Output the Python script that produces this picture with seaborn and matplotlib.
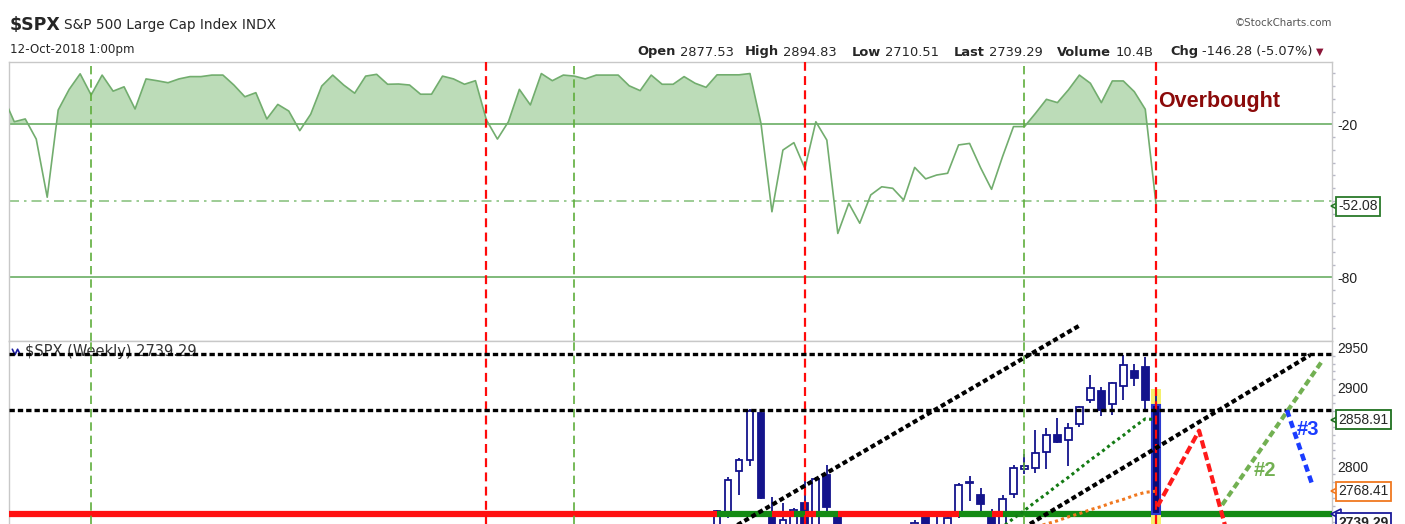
import numpy as np
import pandas as pd
import seaborn as sns
import matplotlib.pyplot as plt
from matplotlib import font_manager

# values (weekly bars, week 104 = 12-Oct-2018)
LAST = 2739.29

# Williams %R, one value per week, week -1 (just left of the frame) .. week 104
willr = [-9.3, -19.0, -17.9, -25.8, -48.6, -14.4, -6.3, -0.2, -8.5, -0.7,
         -7.0, -5.3, -14.0, -2.2, -2.9, -3.7, -2.2, -1.3, -1.3, -0.7,
         -0.7, -4.6, -9.2, -7.6, -17.9, -12.2, -14.8, -22.5, -16.0, -5.0,
         -0.7, -4.6, -7.8, -1.1, -0.4, -4.3, -4.2, -4.6, -8.2, -8.2,
         -1.1, -2.2, -4.3, -2.9, -18.3, -25.8, -19.0, -6.3, -12.4, -0.1,
         -2.9, -0.7, -1.1, -2.2, -0.7, -0.7, -0.7, -4.9, -6.8, -0.7,
         -4.3, -4.3, -1.3, -3.9, -5.5, -0.6, -0.6, -0.6, -0.1, -19.6,
         -54.3, -30.1, -27.2, -37.3, -19.0, -26.2, -62.8, -51.0, -58.8, -47.7,
         -44.5, -45.1, -49.7, -36.9, -41.4, -39.9, -39.2, -28.1, -27.5, -37.0,
         -45.5, -32.7, -20.9, -20.9, -15.7, -10.2, -11.5, -6.5, -0.7, -3.9,
         -11.5, -3.0, -3.0, -7.2, -14.1, -52.08]

# weekly candles, weeks 64..104 (older bars sit below the visible price range)
candle_weeks = list(range(64, 105))
opens = [2684, 2742, 2794, 2808, 2868, 2741, 2614, 2723, 2754, 2681,
         2789, 2741, 2619, 2633, 2636, 2670, 2675, 2663, 2669, 2738,
         2725, 2705, 2741, 2780, 2763, 2740, 2724, 2765, 2797, 2798,
         2818, 2839, 2833, 2854, 2884, 2895, 2879, 2902, 2921, 2925,
         2877.53]
highs = [2745, 2786, 2810, 2872, 2871, 2761, 2754, 2747, 2788, 2787,
         2801, 2741, 2659, 2672, 2680, 2717, 2683, 2682, 2732, 2742,
         2739, 2736, 2779, 2788, 2773, 2746, 2763, 2801, 2816, 2846,
         2848, 2861, 2855, 2876, 2916, 2900, 2906, 2941, 2930, 2938,
         2894.83]
lows = [2682, 2735, 2764, 2800, 2758, 2533, 2596, 2700, 2647, 2675,
        2741, 2585, 2593, 2553, 2605, 2660, 2612, 2594, 2655, 2701,
        2707, 2676, 2735, 2756, 2742, 2691, 2698, 2760, 2790, 2792,
        2797, 2830, 2800, 2850, 2880, 2863, 2865, 2884, 2902, 2870,
        2710.51]
closes = [2743, 2783, 2808, 2870, 2760, 2620, 2732, 2745, 2691, 2784,
          2748, 2588, 2640, 2604, 2656, 2670, 2669, 2663, 2728, 2712,
          2721, 2735, 2776, 2779, 2752, 2718, 2758, 2798, 2800, 2817,
          2839, 2831, 2848, 2875, 2899, 2871, 2905, 2928, 2912, 2884,
          2739.29]

# moving averages (only their last weeks reach the visible range)
ma_green_weeks = list(range(89, 105))
ma_green = [2712, 2723, 2734, 2744, 2755, 2765, 2776, 2786, 2797, 2808,
            2818, 2829, 2839, 2850, 2860, 2858.91]
ma_orange_weeks = list(range(93, 105))
ma_orange = [2723, 2727, 2731, 2736, 2740, 2745, 2749, 2754, 2758,
             2763, 2767, 2768.41]

# hand drawn annotations (week, price)
vline_green = [7, 51, 92]
vline_red = [43, 72, 104]
hline_levels = [2941.5, 2871.0]
trend_a = ([64.0, 97.1], [2710.6, 2978.8])
trend_b = ([92.5, 118.0], [2726.9, 2940.6])
path1 = ([104.1, 107.9, 110.7], [2749, 2845, 2703])
path2 = ([110.0, 119.1], [2751, 2933])
path3 = ([115.9, 118.2], [2871, 2777])

hdr_keys = ['Open', 'High', 'Low', 'Last', 'Volume', 'Chg']
hdr_vals = ['2877.53', '2894.83', '2710.51', '2739.29', '10.4B', '-146.28 (-5.07%)']

# ---------------------------------------------------------------------------
names = {f.name for f in font_manager.fontManager.ttflist}
NARROW = 'Liberation Sans Narrow' if 'Liberation Sans Narrow' in names else 'Liberation Sans'
big = 1.22 if NARROW == 'Liberation Sans Narrow' else 1.0

sns.set_theme(style='white')
plt.rcParams['font.family'] = ['Liberation Sans', 'DejaVu Sans']

W, H = 1405, 524
fig = plt.figure(figsize=(W / 100, H / 100), dpi=100)


def box(x0, y0, x1, y1):
    return [x0 / W, 1 - y1 / H, (x1 - x0) / W, (y1 - y0) / H]


ax_r = fig.add_axes(box(9, 62, 1331.5, 341))
ax_p = fig.add_axes(box(9, 341, 1331.5, 524))
XLIM = (-0.48, 119.96)
NAVY = '#14148c'
RED = '#ff1010'
GREEN = '#138a13'

# --- Williams %R panel
wk_r = np.arange(len(willr)) - 1
r = np.array(willr)
ax_r.fill_between(wk_r, r, -20, where=r >= -20, interpolate=True,
                  color='#bcdcb8', lw=0, zorder=1)
sns.lineplot(x=wk_r, y=r, ax=ax_r, color='#72ad6e', lw=1.2, errorbar=None, zorder=3)
ax_r.axhline(-20, color='#7fba7a', lw=1.4, zorder=2)
ax_r.axhline(-80, color='#7fba7a', lw=1.4, zorder=2)
ax_r.axhline(-50, color='#8cc483', lw=1.2, ls=(0, (6, 3, 1.5, 3)), zorder=2)
ax_r.set_ylim(-104.98, 4.43)
ax_r.set_yticks([-20, -80])
ax_r.set_yticklabels(['-20', '-80'])
ax_r.set_yticks(np.arange(-100, 5, 5), minor=True)
ax_r.text(104.2, -10.9, 'Overbought', color='#8b0a0a', fontsize=15.5 * big,
          fontweight='bold', family=NARROW, va='center', ha='left', zorder=8)

# --- price panel
cdf = pd.DataFrame(dict(week=candle_weeks, open=opens, high=highs, low=lows, close=closes))
hist = cdf.iloc[:-1]
cur = cdf.iloc[-1]
up = hist[hist.close >= hist.open]
dn = hist[hist.close < hist.open]
ax_p.vlines(hist.week, hist.low, hist.high, color=NAVY, lw=1.3, zorder=2)
ax_p.bar(up.week, up.close - up.open, bottom=up.open, width=0.62,
         color='white', edgecolor=NAVY, lw=1.3, zorder=2.2)
ax_p.bar(dn.week, dn.open - dn.close, bottom=dn.close, width=0.62,
         color=NAVY, edgecolor=NAVY, lw=1.3, zorder=2.2)

# last-price line, coloured by where each weekly close sits against it
seg_start = [XLIM[0]] + candle_weeks
seg_end = candle_weeks + [XLIM[1]]
seg_col = [RED] + [GREEN if c >= LAST else RED for c in closes]
ax_p.hlines([LAST] * len(seg_col), seg_start, seg_end, colors=seg_col, lw=4.5, zorder=3)

# current week, highlighted
ax_p.bar(cur.week, cur.high + 3 - cur.low, bottom=cur.low, width=0.95,
         color='#f4f06c', lw=0, zorder=3.6)
ax_p.vlines(cur.week, cur.low, cur.high, color=NAVY, lw=1.3, zorder=3.7)
ax_p.bar(cur.week, cur.open - cur.close, bottom=cur.close, width=0.72,
         color='#0a0a78', edgecolor='#2a3ad0', lw=1.5, zorder=3.8)

sns.lineplot(x=ma_green_weeks, y=ma_green, ax=ax_p, color='#137a13', lw=2.2,
             ls=(0, (1, 1.1)), errorbar=None, zorder=4)
sns.lineplot(x=ma_orange_weeks, y=ma_orange, ax=ax_p, color='#f07820', lw=2.2,
             ls=(0, (1, 1.1)), errorbar=None, zorder=4)

for lvl in hline_levels:
    ax_p.axhline(lvl, color='black', lw=2.4, ls=(0, (1.6, 0.9)), zorder=6)
for tl in (trend_a, trend_b):
    ax_p.plot(*tl, color='black', lw=3.0, ls=(0, (1.2, 0.75)), clip_on=False, zorder=7)

ax_p.plot(*path1, color='#ff1a1a', lw=3.0, ls=(0, (2.0, 0.9)), zorder=7)
ax_p.plot(*path2, color='#72b052', lw=3.0, ls=(0, (1.6, 0.9)), zorder=7)
ax_p.plot(*path3, color='#1a3cff', lw=3.2, ls=(0, (1.6, 1.0)), zorder=7)
lab = dict(fontsize=14.5 * big, fontweight='bold', family=NARROW, ha='center',
           va='center', zorder=8)
ax_p.text(106.8, 2715, '#1', color='#ff1a1a', **lab)
ax_p.text(113.9, 2795, '#2', color='#72b052', **lab)
ax_p.text(117.8, 2846, '#3', color='#1a3cff', **lab)

ax_p.set_ylim(2726.9, 2958.5)
ax_p.set_yticks([2800, 2900, 2950])
ax_p.set_yticks(np.arange(2730, 2960, 10), minor=True)

ax_p.text(0.0121, 0.9415, '$SPX (Weekly) 2739.29', transform=ax_p.transAxes,
          va='center', fontsize=10.5, family='DejaVu Sans', color='#333333', zorder=5)
ax_p.plot([0.0025, 0.0045, 0.0065, 0.0085], [0.955, 0.925, 0.955, 0.925],
          transform=ax_p.transAxes, color='#1a1aa0', lw=1.2, zorder=5)

# vertical markers across both panels
for ax in (ax_r, ax_p):
    for w in vline_green:
        ax.axvline(w, color='#5fae3c', lw=1.2, ls=(0, (5, 3)), zorder=5)
    for w in vline_red:
        ax.axvline(w, color='#ff0a0a', lw=1.6, ls=(0, (4, 2.4)), zorder=5)
    ax.set_xlim(*XLIM)
    ax.set_xticks([])
    ax.set_xlabel('')
    ax.set_ylabel('')
    ax.yaxis.tick_right()
    ax.tick_params(axis='y', which='major', length=0, pad=4, labelsize=10,
                   labelcolor='#222222')
    ax.tick_params(axis='y', which='minor', length=2, width=1, color='#b8b8c8')
    ax.set_facecolor('white')
    for s in ax.spines.values():
        s.set_color('#c8c8c8')
        s.set_linewidth(1)
ax_p.spines['bottom'].set_visible(False)


def tag(ax, val, text, ec, dy=0, bold=False):
    ax.plot(1.0035, val, marker='<', ms=7, mfc='white', mec=ec, mew=1.2,
            transform=ax.get_yaxis_transform(), clip_on=False, zorder=9)
    ax.annotate(text, xy=(1, val), xycoords=('axes fraction', 'data'),
                xytext=(5, dy), textcoords='offset points', va='center', ha='left',
                fontsize=10, fontweight='bold' if bold else 'normal',
                bbox=dict(boxstyle='square,pad=0.18', fc='white', ec=ec, lw=1.3),
                annotation_clip=False, zorder=10)


tag(ax_r, willr[-1], '-52.08', '#2a7a2a')
tag(ax_p, ma_green[-1], '2858.91', '#1f6f1f')
tag(ax_p, ma_orange[-1], '2768.41', '#f07820')
tag(ax_p, LAST, '2739.29', '#1a1a9a', dy=-6, bold=True)

# --- header


def ftext(x, y, s, **kw):
    return fig.text(x / W, 1 - y / H, s, family='DejaVu Sans', **kw)


ftext(10, 29.5, '$SPX', fontsize=12.5, fontweight='bold', va='baseline')
ftext(64, 29.5, 'S&P 500 Large Cap Index INDX', fontsize=9.8, va='baseline')
ftext(10, 53, '12-Oct-2018 1:00pm', fontsize=8.6, va='baseline')
ftext(1332, 25.5, '\u00a9StockCharts.com', fontsize=7.4, color='#555555',
      ha='right', va='baseline')

hdr_x = [637, 745, 852, 954, 1057, 1170]
prev = None
for key, val, x in zip(hdr_keys, hdr_vals, hdr_x):
    t = ftext(x, 55.5, key, fontsize=9.4, fontweight='bold', va='baseline')
    prev = ax_r.annotate(val, xy=(1, 0), xycoords=t, xytext=(3, 0),
                         textcoords='offset points', va='bottom', fontsize=9.4,
                         family='DejaVu Sans', annotation_clip=False)
ax_r.annotate('\u25bc', xy=(1, 0), xycoords=prev, xytext=(2, 1),
              textcoords='offset points', va='bottom', fontsize=7,
              color='#8b1538', family='DejaVu Sans', annotation_clip=False)

fig.savefig('out.png', dpi=100)
